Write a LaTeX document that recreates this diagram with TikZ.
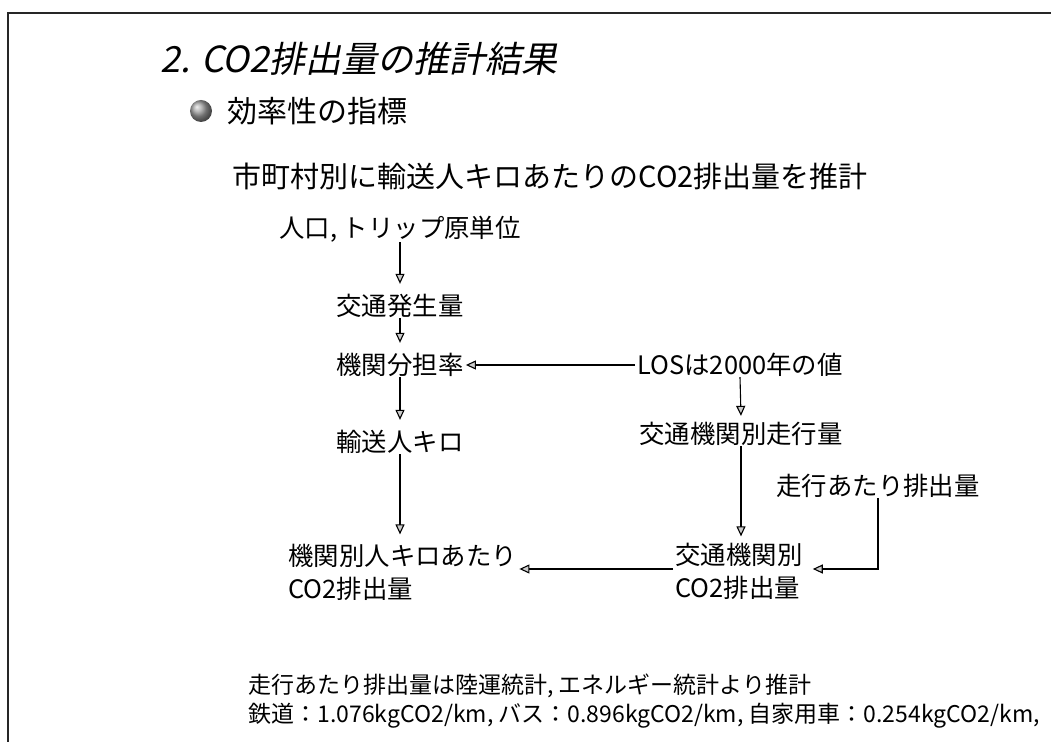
\documentclass[tikz,border=0pt]{standalone}
\usepackage{fontspec}
\setmainfont{Noto Sans CJK JP}
\newfontfamily\jpit[FakeSlant=0.2]{Noto Sans CJK JP}
\usetikzlibrary{arrows.meta,calc}
\begin{document}
\begin{tikzpicture}[x=0.5pt,y=-0.5pt,
  lbl/.style={inner sep=0pt, font=\fontsize{12.7pt}{16.5pt}\selectfont, align=left},
  head/.style={inner sep=0pt, anchor=west},
  note/.style={inner sep=0pt, anchor=west, font=\fontsize{11.5pt}{15pt}\selectfont},
  arr/.style={-{Triangle[length=5pt,width=4.5pt,fill=gray!40]}, line width=0.55pt},
  frameline/.style={line width=1pt, black!85}]
\useasboundingbox (0,0) rectangle (1051,742);
% frame
\draw[frameline] (8,742) -- (8,13) -- (1051,13);
% headings
\node[head, font=\jpit\fontsize{18pt}{20pt}\selectfont] (title) at (160,59) {2. CO2排出量の推計結果};
\shade[ball color=gray!75] (201,111) circle (11);
\node[head, font=\fontsize{15pt}{18pt}\selectfont] (sub) at (227,111) {効率性の指標};
\node[head, font=\fontsize{14.5pt}{17pt}\selectfont] (goal) at (232,176) {市町村別に輸送人キロあたりのCO2排出量を推計};
% diagram nodes
\node[lbl] (n1) at (400,229) {人口, トリップ原単位};
\node[lbl] (n2) at (400,306) {交通発生量};
\node[lbl] (n3) at (400,365) {機関分担率};
\node[lbl] (n4) at (400,442) {輸送人キロ};
\node[lbl, anchor=west] (n5) at (288,572) {機関別人キロあたり\\CO2排出量};
\node[lbl] (n6) at (740,365) {LOSは2000年の値};
\node[lbl] (n7) at (741,434) {交通機関別走行量};
\node[lbl] (n8) at (878,486) {走行あたり排出量};
\node[lbl, anchor=west] (n9) at (675,571) {交通機関別\\CO2排出量};
% connectors
\draw[arr] (n1.south) -- ([yshift=5pt]n2.north);
\draw[arr] (n2.south) -- ([yshift=5pt]n3.north);
\draw[arr] (n3.south) -- ([yshift=5pt]n4.north);
\coordinate (n5top) at ($(n4.south |- n5.north)+(0,-9)$);
\draw[arr] (n4.south) -- (n5top);
\draw[arr] ([xshift=-1pt]n6.west) -- ([xshift=1pt]n3.east);
\draw[arr] (n6.south) -- ([yshift=3pt]n7.north);
\coordinate (n9top) at ($(n7.south |- n9.north)+(0,-6)$);
\draw[arr] (n7.south) -- (n9top);
\coordinate (n9in) at ($(n9.east)+(10,-2)$);
\draw[arr] (n8.south) |- (n9in);
\coordinate (n5in) at ($(n9.west -| n5.east)+(2,-2)$);
\draw[arr] ($(n9.west)+(-2,-2)$) -- (n5in);
% notes
\node[note] (note1) at (248,686) {走行あたり排出量は陸運統計, エネルギー統計より推計};
\node[note] (note2) at (248,716) {鉄道：1.076kgCO2/km, バス：0.896kgCO2/km, 自家用車：0.254kgCO2/km,};
\end{tikzpicture}
\end{document}
